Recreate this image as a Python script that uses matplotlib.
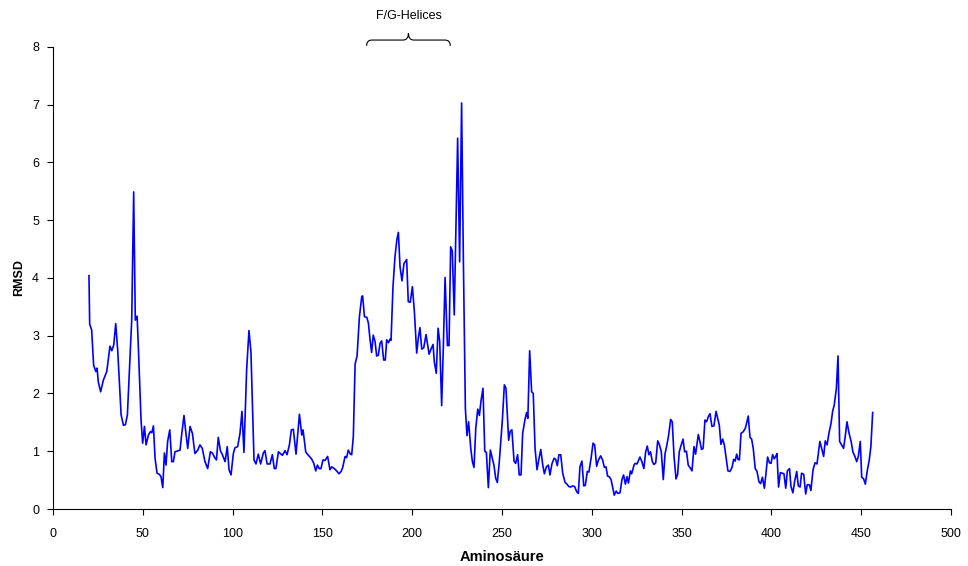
import numpy as np
import matplotlib
matplotlib.use("Agg")
import matplotlib.pyplot as plt
from matplotlib.path import Path
from matplotlib.patches import PathPatch

plt.rcParams['font.family'] = ['Liberation Sans', 'DejaVu Sans']

# Residue positions and RMSD values
residues = [
    20, 20.4, 21.5, 22.6, 23.8, 24.5, 25.2, 26.5, 28, 29.9, 31.7, 32.7, 33.8, 34.9, 36,
    37.9, 39.2, 40.3, 41.4, 43.8, 44.9, 45.8, 46.8, 47.5, 49, 49.9, 50.9, 51.8, 53.1, 54.2,
    55, 55.9, 56.8, 57.9, 59.2, 60.1, 61.1, 62, 62.9, 63.8, 65, 66.1, 67, 67.9, 70.7,
    71.6, 72.9, 74, 75, 76.3, 77.6, 79, 80.6, 81.8, 83.1, 84.6, 86.1, 87.6, 88.7, 90.2,
    91, 92, 93.2, 94.3, 95.8, 97, 98, 99.1, 100.4, 101.3, 102.8, 104.1, 105.2, 106.3, 107.8,
    109.1, 110.2, 111.9, 113, 114.3, 115.6, 117.1, 118, 119.2, 120.8, 122.1, 123.2, 124.1, 125.5, 126.6,
    127.7, 129.2, 130.3, 131.6, 132.7, 133.8, 135.3, 137.2, 138.5, 139.2, 140.7, 141.3, 142.5, 143.9, 145.2,
    146.3, 147.2, 148.2, 149.2, 150.3, 151.4, 152.9, 154.2, 155.2, 156.6, 157.9, 159.2, 160.4, 161.3, 162.6,
    163.5, 164.4, 165.6, 166.3, 167.2, 168.2, 169.3, 170.6, 171.9, 172.4, 173.4, 174.7, 175.6, 176.5, 177.4,
    178.3, 179.3, 180.2, 181.1, 182.1, 183, 184.1, 185, 185.8, 186.8, 187.6, 188.2, 189.3, 190.4, 191.5,
    192.3, 193.2, 194.3, 195.4, 196.9, 197.8, 198.9, 200.1, 201.2, 202.5, 203.4, 204.3, 205.3, 206.4, 207.7,
    209.4, 210.5, 211.6, 212.3, 213.4, 214.4, 215.3, 216.4, 217.3, 218.3, 219.6, 220.5, 221.4, 222.3, 223.4,
    225.3, 226.4, 227.5, 228.5, 229.6, 230.5, 231.4, 232.6, 233.5, 234.4, 235.4, 236.5, 237.4, 238.3, 239.4,
    240.4, 241.3, 242.4, 243.5, 244.6, 245.5, 246.5, 247.4, 248.5, 250.2, 251.3, 252.2, 253.7, 254.6, 255.5,
    256.7, 257.6, 258.7, 259.6, 260.6, 261.5, 262.8, 263.7, 264.4, 265.4, 266.5, 267.4, 268.4, 269.5, 270.4,
    271.6, 272.7, 273.6, 274.7, 275.8, 276.7, 277.8, 279, 279.9, 280.8, 281.7, 282.7, 283.8, 285.1, 286.2,
    287.1, 288.3, 289.3, 290.4, 291.6, 292.5, 293.4, 294.5, 295.5, 296.4, 297.5, 298.4, 299.6, 300.7, 301.6,
    302.7, 303.6, 304.9, 306, 307, 307.9, 308.8, 309.7, 310.7, 311.6, 312.5, 313.6, 314.5, 315.7, 316.8,
    317.7, 318.7, 319.6, 320.4, 321.5, 322.2, 323.5, 324.1, 325.2, 326.8, 327.9, 329, 330, 330.9, 331.8,
    332.7, 333.7, 334.6, 335.6, 336.7, 337.6, 338.7, 339.8, 340.8, 341.7, 342.8, 343.9, 344.8, 345.8, 346.9,
    347.8, 348.7, 349.6, 350.8, 351.7, 352.7, 353.7, 354.6, 355.8, 356.9, 357.8, 358.7, 359.3, 360.2, 361.1,
    362, 363, 363.9, 364.9, 365.8, 366.9, 368, 369.2, 370.1, 371, 371.9, 372.9, 373.8, 374.7, 375.8,
    376.9, 378.1, 379, 379.8, 380.7, 381.4, 382.2, 383.1, 384.4, 385.5, 386.4, 387.1, 388.1, 389, 389.9,
    391, 392, 393.1, 394, 395, 396.1, 397, 397.9, 398.9, 399.8, 400.7, 401.6, 402.4, 403.1, 404,
    405, 406.1, 407, 408, 408.9, 410.1, 410.9, 412, 412.9, 414.1, 415, 416, 416.8, 418, 419.1,
    420, 421.2, 422, 423.2, 424.3, 425.4, 427, 428, 429.1, 430, 431, 432.1, 433.2, 434.1, 435,
    436.2, 437.1, 438, 439.1, 440.2, 441.1, 442.1, 443.2, 444.4, 445.4, 446.5, 447.5, 448.4, 449.5, 450.3,
    451.4, 452.3, 453.5, 454.5, 455.4, 456.4,
]
rmsd = [
    4.04, 3.20, 3.10, 2.49, 2.38, 2.44, 2.20, 2.03, 2.23, 2.38, 2.82, 2.74, 2.84, 3.21, 2.75,
    1.63, 1.45, 1.46, 1.63, 3.27, 5.49, 3.27, 3.34, 2.81, 1.54, 1.14, 1.43, 1.11, 1.28, 1.34,
    1.32, 1.44, 0.88, 0.62, 0.60, 0.56, 0.37, 0.97, 0.76, 1.17, 1.37, 0.82, 0.82, 0.99, 1.02,
    1.28, 1.62, 1.31, 1.05, 1.43, 1.31, 0.96, 1.02, 1.11, 1.05, 0.82, 0.70, 0.99, 0.97, 0.88,
    0.85, 1.24, 1.01, 0.94, 0.82, 1.08, 0.68, 0.59, 0.96, 1.06, 1.08, 1.31, 1.69, 0.98, 2.41,
    3.09, 2.72, 0.85, 0.78, 0.95, 0.78, 0.97, 1.01, 0.78, 0.78, 0.94, 0.70, 0.70, 0.99, 0.96,
    0.93, 1.01, 0.94, 1.11, 1.37, 1.38, 0.95, 1.64, 1.28, 1.37, 0.99, 0.96, 0.92, 0.87, 0.79,
    0.66, 0.76, 0.70, 0.70, 0.85, 0.84, 0.91, 0.68, 0.73, 0.70, 0.66, 0.61, 0.65, 0.72, 0.91,
    0.89, 1.02, 0.95, 0.94, 1.25, 2.51, 2.65, 3.33, 3.68, 3.69, 3.33, 3.32, 3.22, 2.94, 2.71,
    3.01, 2.90, 2.65, 2.66, 2.87, 2.91, 2.58, 2.58, 2.93, 2.88, 2.94, 2.92, 3.85, 4.37, 4.67,
    4.79, 4.20, 3.95, 4.25, 4.32, 3.59, 3.58, 3.85, 3.42, 2.70, 2.96, 3.14, 2.77, 2.79, 3.02,
    2.68, 2.77, 2.85, 2.55, 2.35, 3.13, 2.90, 1.79, 2.78, 4.01, 2.83, 2.83, 4.54, 4.47, 3.36,
    6.42, 4.28, 7.03, 4.28, 1.74, 1.27, 1.51, 1.05, 0.82, 0.72, 1.40, 1.73, 1.62, 1.87, 2.09,
    1.00, 0.98, 0.37, 1.02, 0.88, 0.76, 0.53, 0.46, 0.82, 1.54, 2.15, 2.09, 1.19, 1.35, 1.37,
    0.83, 0.79, 0.94, 0.59, 0.59, 1.31, 1.55, 1.67, 1.57, 2.74, 2.03, 2.00, 1.05, 0.68, 0.84,
    1.03, 0.76, 0.61, 0.73, 0.76, 0.59, 0.78, 0.88, 0.86, 0.75, 0.94, 0.94, 0.62, 0.46, 0.43,
    0.39, 0.38, 0.40, 0.39, 0.30, 0.27, 0.73, 0.83, 0.40, 0.41, 0.65, 0.64, 0.88, 1.14, 1.11,
    0.74, 0.84, 0.92, 0.85, 0.72, 0.73, 0.57, 0.56, 0.51, 0.38, 0.24, 0.31, 0.27, 0.28, 0.51,
    0.59, 0.43, 0.56, 0.45, 0.66, 0.61, 0.76, 0.79, 0.78, 0.90, 0.82, 0.70, 0.99, 1.09, 0.94,
    0.99, 0.82, 0.77, 0.80, 1.18, 1.12, 0.99, 0.51, 0.96, 1.09, 1.28, 1.55, 1.51, 0.91, 0.52,
    0.60, 0.99, 1.09, 1.21, 0.99, 1.00, 0.76, 0.72, 0.66, 1.08, 0.95, 1.15, 1.29, 1.17, 1.03,
    1.05, 1.54, 1.51, 1.60, 1.65, 1.43, 1.44, 1.69, 1.57, 1.45, 1.12, 1.21, 1.11, 0.91, 0.66,
    0.65, 0.72, 0.86, 0.83, 0.95, 0.86, 0.85, 1.31, 1.34, 1.40, 1.51, 1.61, 1.24, 1.21, 1.05,
    0.70, 0.65, 0.47, 0.44, 0.55, 0.36, 0.62, 0.90, 0.80, 0.79, 0.94, 0.87, 0.91, 0.96, 0.38,
    0.63, 0.62, 0.61, 0.36, 0.66, 0.70, 0.39, 0.28, 0.47, 0.65, 0.40, 0.38, 0.62, 0.60, 0.26,
    0.42, 0.42, 0.32, 0.68, 0.80, 0.78, 1.17, 1.05, 0.91, 1.18, 1.11, 1.32, 1.48, 1.69, 1.80,
    2.09, 2.65, 1.17, 1.11, 1.05, 1.25, 1.51, 1.32, 1.17, 0.99, 0.91, 0.82, 0.91, 1.17, 0.55,
    0.52, 0.43, 0.68, 0.85, 1.08, 1.67,
]

x_ticks = np.arange(0, 501, 50)
y_ticks = np.arange(0, 9, 1)

# F/G-Helices bracket range
helix_start, helix_end = 174.6, 221.2

fig = plt.figure(figsize=(9.68, 5.66), dpi=100)
ax = fig.add_axes([0.0548, 0.1007, 0.9276, 0.8163])

ax.plot(residues, rmsd, color='#0000FF', linewidth=1.2)

ax.set_xlim(0, 500)
ax.set_ylim(0, 8)
ax.set_xticks(x_ticks)
ax.set_yticks(y_ticks)
ax.tick_params(direction='out', length=4, width=0.8, labelsize=9, colors='black')
ax.tick_params(axis='x', pad=10)
ax.tick_params(axis='y', pad=6)
for side in ['top', 'right']:
    ax.spines[side].set_visible(False)
for side in ['left', 'bottom']:
    ax.spines[side].set_color('black')
    ax.spines[side].set_linewidth(0.8)

ax.set_xlabel('Aminosäure', fontsize=10.5, fontweight='bold', labelpad=7)
ax.set_ylabel('RMSD', fontsize=9, fontweight='bold', labelpad=5)

# curly brace over the F/G-Helices region
mid = (helix_start + helix_end) / 2
y0, y1, y2 = 8.02, 8.12, 8.24
r = 3.0
verts = [
    (helix_start, y0), (helix_start, y1), (helix_start + r, y1),
    (mid - r, y1), (mid, y1), (mid, y2),
    (mid, y1), (mid + r, y1),
    (helix_end - r, y1), (helix_end, y1), (helix_end, y0),
]
codes = [Path.MOVETO, Path.CURVE3, Path.CURVE3,
         Path.LINETO, Path.CURVE3, Path.CURVE3,
         Path.CURVE3, Path.CURVE3,
         Path.LINETO, Path.CURVE3, Path.CURVE3]
brace = PathPatch(Path(verts, codes), facecolor='none', edgecolor='black',
                  linewidth=0.8, clip_on=False)
ax.add_patch(brace)
ax.text(mid, 8.54, 'F/G-Helices', ha='center', va='center', fontsize=9,
        clip_on=False)

fig.savefig('out.png', dpi=100, facecolor='white')
